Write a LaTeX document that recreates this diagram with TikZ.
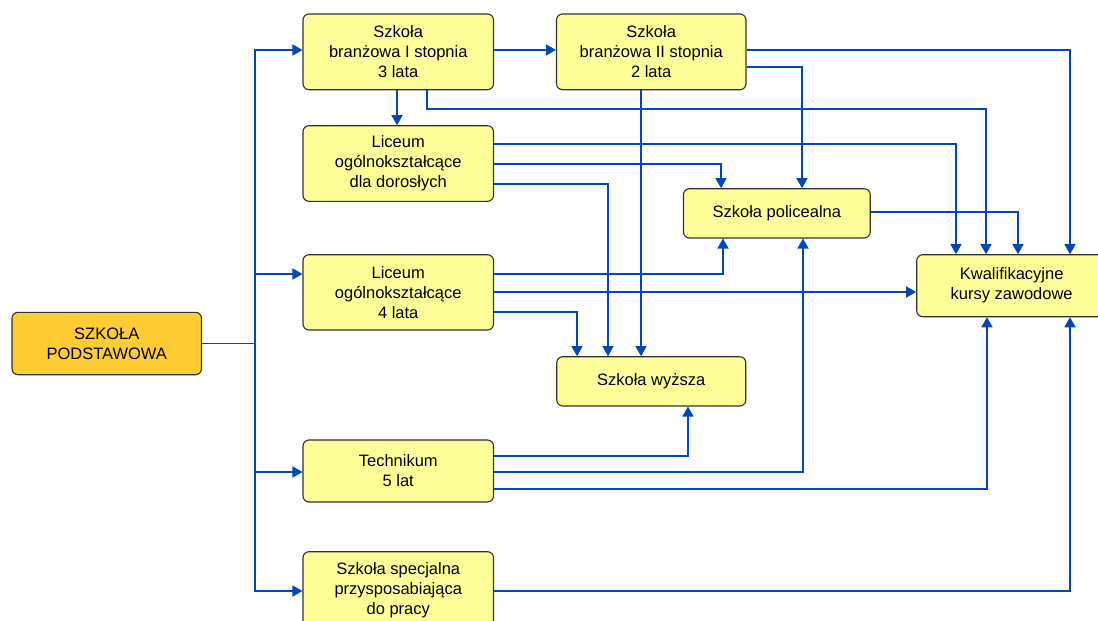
\documentclass[tikz,border=0pt]{standalone}
\usepackage{fontspec}
\setmainfont{Liberation Sans}
\usetikzlibrary{arrows.meta}
\definecolor{lineblue}{RGB}{0,71,187}
\definecolor{boxfill}{RGB}{255,255,153}
\definecolor{spfill}{RGB}{255,204,51}
\definecolor{boxdraw}{RGB}{50,50,50}
\tikzset{
  box/.style={draw=boxdraw, line width=1.1pt, fill=boxfill, rounded corners=6pt,
    align=center, inner sep=0pt, font=\fontsize{16.5}{20}\selectfont},
  conn/.style={draw=lineblue, line width=1.7pt},
  arr/.style={conn, -{Triangle[length=10pt,width=11pt]}}
}
\begin{document}
\begin{tikzpicture}[x=1pt,y=-1pt]
\useasboundingbox (0,0) rectangle (1098,621);
\clip (0,0) rectangle (1098,621);
\fill[white] (0,0) rectangle (1098,621);
% nodes
\node[box, fill=spfill, minimum width=189.5pt, minimum height=62.4pt] (SP) at (106.75,343.5) {SZKOŁA\\PODSTAWOWA};
\node[box, minimum width=190.5pt, minimum height=75.7pt] (B1) at (398.25,51.85) {Szkoła\\branżowa I stopnia\\3 lata};
\node[box, minimum width=189.5pt, minimum height=75.7pt] (B2) at (651.25,51.85) {Szkoła\\branżowa II stopnia\\2 lata};
\node[box, minimum width=190.5pt, minimum height=75.6pt] (LD) at (398.25,163.5) {Liceum\\ogólnokształcące\\dla dorosłych};
\node[box, minimum width=186.7pt, minimum height=49.3pt] (SPol) at (776.85,213.35) {Szkoła policealna};
\node[box, minimum width=190pt, minimum height=62pt] (KKZ) at (1011.7,285.7) {Kwalifikacyjne\\kursy zawodowe};
\node[box, minimum width=190.5pt, minimum height=75.3pt] (LO) at (398.25,292.35) {Liceum\\ogólnokształcące\\4 lata};
\node[box, minimum width=189pt, minimum height=49.3pt] (SW) at (651.25,381.35) {Szkoła wyższa};
\node[box, minimum width=190.5pt, minimum height=62pt] (T) at (398.25,471) {Technikum\\5 lat};
\node[box, minimum width=190.5pt, minimum height=76.6pt] (SS) at (398.25,590) {Szkoła specjalna\\przysposabiająca\\do pracy};
% trunk
\coordinate (tr) at (255,343.5);
\draw[conn] (SP.east) -- (tr);
\draw[arr] (tr) |- (B1.west |- 0,50);
\draw[arr] (tr) |- (LO.west |- 0,274);
\draw[arr] (tr) |- (T.west |- 0,472);
\draw[arr] (tr) |- (SS.west |- 0,591);
% from B1
\draw[arr] (B1.east |- 0,50) -- (B2.west |- 0,50);
\draw[arr] (B1.south -| 397,0) -- (LD.north -| 397,0);
\draw[arr] (B1.south -| 427,0) |- (986,109) -- (KKZ.north -| 986,0);
% from B2
\draw[arr] (B2.east |- 0,50) -| (KKZ.north -| 1070,0);
\draw[arr] (B2.east |- 0,67) -| (SPol.north -| 802,0);
\draw[arr] (B2.south -| 641,0) -- (SW.north -| 641,0);
% from LD
\draw[arr] (LD.east |- 0,144) -| (KKZ.north -| 956,0);
\draw[arr] (LD.east |- 0,164) -| (SPol.north -| 721,0);
\draw[arr] (LD.east |- 0,184) -| (SW.north -| 608,0);
% from SPol
\draw[arr] (SPol.east |- 0,212) -| (KKZ.north -| 1018,0);
% from LO
\draw[arr] (LO.east |- 0,274) -| (SPol.south -| 723,0);
\draw[arr] (LO.east |- 0,292) -- (KKZ.west |- 0,292);
\draw[arr] (LO.east |- 0,312) -| (SW.north -| 577,0);
% from T
\draw[arr] (T.east |- 0,456) -| (SW.south -| 688,0);
\draw[arr] (T.east |- 0,472) -| (SPol.south -| 803,0);
\draw[arr] (T.east |- 0,489) -| (KKZ.south -| 987,0);
% from SS
\draw[arr] (SS.east |- 0,591) -| (KKZ.south -| 1070,0);
\end{tikzpicture}
\end{document}
